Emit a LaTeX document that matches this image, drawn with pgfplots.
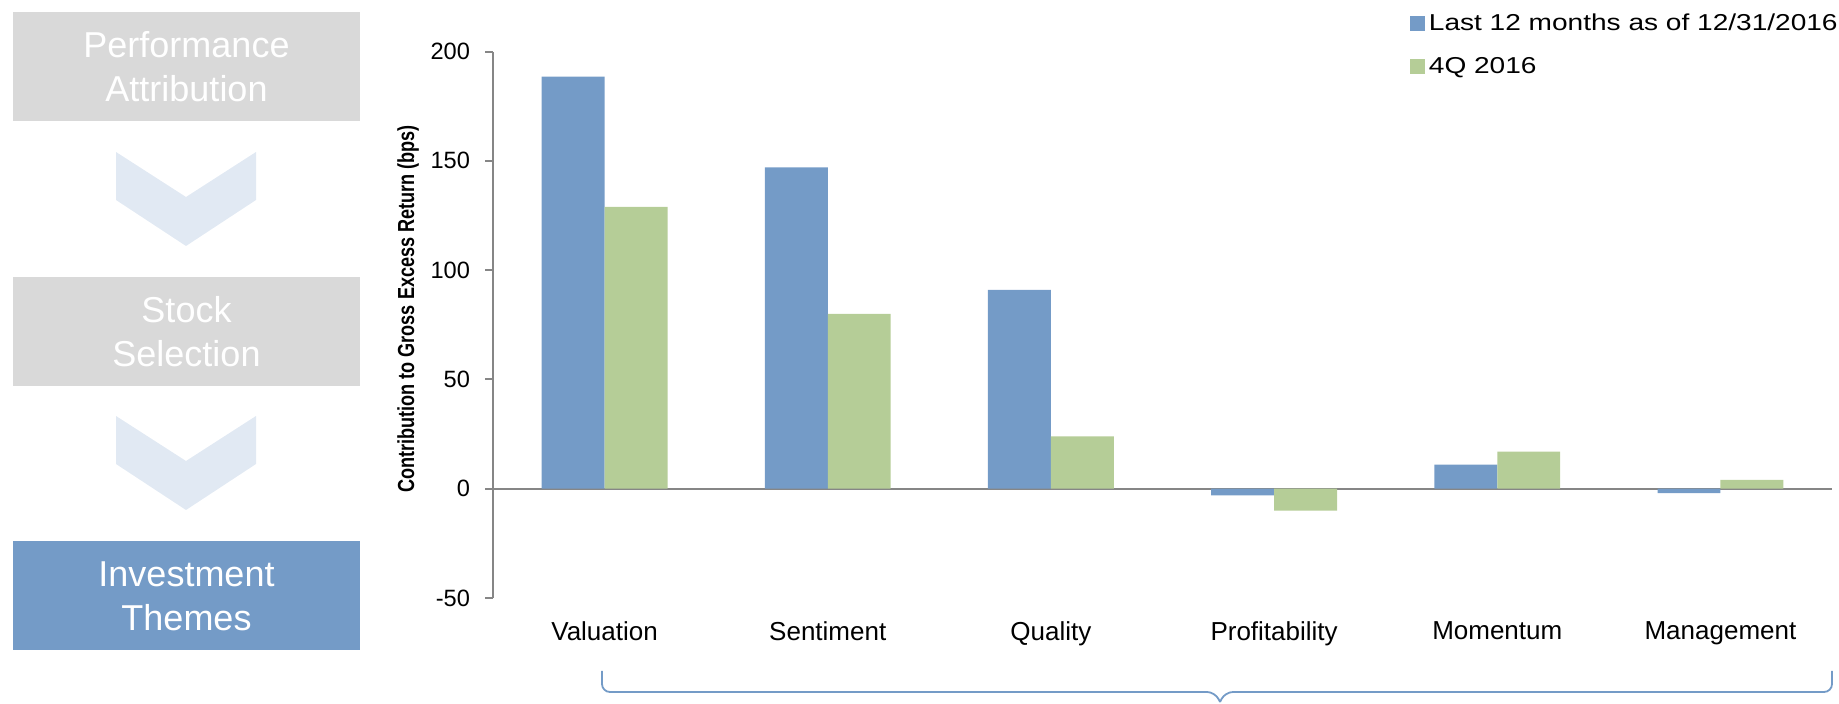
\documentclass[border=0pt]{standalone}
\usepackage{fontspec}
\setmainfont{Liberation Sans}
\newfontfamily\legendfont[FakeStretch=1.22]{Liberation Sans}
\newfontfamily\narrowfont[FakeStretch=0.78]{Liberation Sans}
\usepackage{pgfplots}
\pgfplotsset{compat=1.18}

\definecolor{barblue}{RGB}{116,155,199}
\definecolor{bargreen}{RGB}{181,205,151}
\definecolor{boxgray}{RGB}{217,217,217}
\definecolor{chevron}{RGB}{225,233,243}
\definecolor{axisgray}{RGB}{134,134,134}

\begin{document}
\begin{tikzpicture}
\useasboundingbox (0,0) rectangle (919.5pt,352pt);

% left-hand flow: coordinates in pixels from the top left
\begin{scope}[x=0.5pt,y=-0.5pt,shift={(0,352pt)}]
  \tikzset{boxtext/.style={white, align=center, font=\fontsize{18}{22}\selectfont}}
  \fill[boxgray] (13,12) rectangle (360,121);
  \node[boxtext] at (186.5,67) {Performance\\Attribution};
  \fill[chevron] (116,152) -- (186,197) -- (256,152) -- (256,200) -- (186,246) -- (116,200) -- cycle;
  \fill[boxgray] (13,277) rectangle (360,386);
  \node[boxtext] at (186.5,332) {Stock\\Selection};
  \fill[chevron] (116,416) -- (186,461) -- (256,416) -- (256,464) -- (186,510) -- (116,464) -- cycle;
  \fill[barblue] (13,541) rectangle (360,650);
  \node[boxtext] at (186.5,596) {Investment\\Themes};

  \node[rotate=90, font=\narrowfont\bfseries\fontsize{11.6}{14}\selectfont] at (408,309)
    {Contribution to Gross Excess Return (bps)};

  % bracket under the categories
  \draw[barblue, line width=0.9pt, rounded corners=4pt]
    (602,671) -- (602,692) -- (1215,692) -- (1220,702);
  \draw[barblue, line width=0.9pt, rounded corners=4pt]
    (1220,702) -- (1225,692) -- (1832,692) -- (1832,671);
\end{scope}

\begin{axis}[
  at={(246.5pt,53pt)}, anchor=south west,
  scale only axis, width=669.5pt, height=273.2pt,
  ybar=0pt, bar width=0.282,
  xmin=-0.5, xmax=5.5, ymin=-50, ymax=200,
  axis y line*=left, axis x line*=bottom,
  x axis line style={draw=none},
  y axis line style={axisgray, line width=1pt},
  xtick={0,1,2,3,4,5},
  xticklabels={Valuation,Sentiment,Quality,Profitability,Momentum,Management},
  xtick style={draw=none},
  ytick={-50,0,50,100,150,200},
  ytick style={axisgray, line width=1pt},
  tick align=outside, major tick length=4pt,
  extra y ticks={0}, extra y tick labels={},
  extra y tick style={grid=major, major grid style={axisgray, line width=1.2pt}},
  yticklabel style={font=\fontsize{11.8}{14}\selectfont, xshift=-4pt},
  xticklabel style={font=\fontsize{13}{15}\selectfont, yshift=-4.2pt},
  /pgf/number format/assume math mode=true,
  legend style={at={(rel axis cs:0.680,1.085)}, anchor=north west,
    draw=none, fill=none, row sep=8pt,
    font=\legendfont\fontsize{11.5}{14}\selectfont},
  legend cell align=left,
  legend image code/.code={\fill[#1] (0pt,-3.75pt) rectangle (7.5pt,3.75pt);},
]
\addplot[fill=barblue, draw=none] coordinates
  {(0,188.5) (1,147) (2,91) (3,-3) (4,11) (5,-2)};
\addplot[fill=bargreen, draw=none] coordinates
  {(0,129) (1,80) (2,24) (3,-10) (4,17) (5,4)};
\legend{Last 12 months as of 12/31/2016, 4Q 2016}
\end{axis}
\end{tikzpicture}
\end{document}
